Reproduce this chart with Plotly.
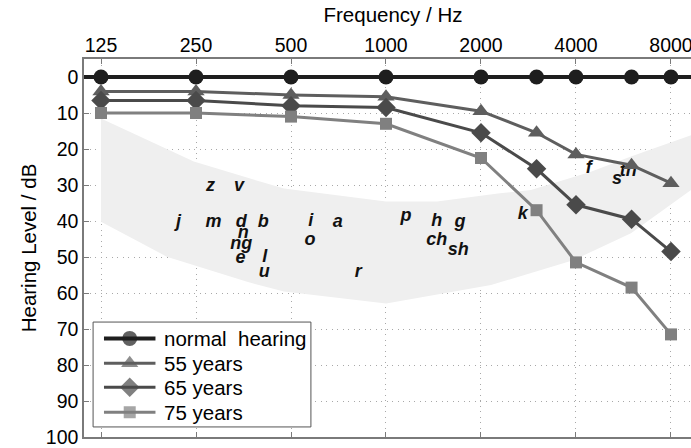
import plotly.graph_objects as go

# ---- data ----
freqs = [125, 250, 500, 1000, 2000, 3000, 4000, 6000, 8000]
normal_hearing = [0, 0, 0, 0, 0, 0, 0, 0, 0]
years_55 = [4, 4, 5, 5.5, 9.5, 15.5, 21.5, 24.5, 29.5]
years_65 = [6.5, 6.5, 8, 8.5, 15.5, 25.5, 35.5, 39.5, 48.5]
years_75 = [10, 10, 11, 13, 22.5, 37, 51.5, 58.5, 71.5]

tick_freqs = [125, 250, 500, 1000, 2000, 4000, 8000]
tick_labels = ["125", "250", "500", "1000", "2000", "4000", "8000"]
level_ticks = [0, 10, 20, 30, 40, 50, 60, 70, 80, 90, 100]

# speech banana outline (upper edge left->right, lower edge right->left)
banana_freq = [125, 246, 475, 1000, 1451, 2297, 2880, 4462, 5974, 10000,
               10000, 5974, 3943, 2151, 1000, 475, 363, 202, 125]
banana_level = [11.5, 23.5, 31, 34.6, 34.6, 32.3, 31.4, 26.3, 22.1, 15.1,
                29.3, 43.4, 50.8, 57.8, 62.9, 59.6, 56.9, 49.9, 40.2]

phonemes = ["z", "v", "j", "m", "d", "b", "n", "ng", "e", "l", "u",
            "i", "a", "o", "r", "p", "h", "g", "ch", "sh", "k", "f", "s", "th"]
phoneme_freq = [278, 342, 220, 284, 348, 408, 353, 348, 346, 413, 411,
                578, 703, 574, 817, 1157, 1448, 1716, 1448, 1695, 2712, 4388, 5395, 5858]
phoneme_level = [30.5, 30.3, 40.5, 40.5, 40.3, 40.4, 43.5, 46.5, 50.4, 50, 54.4,
                 40.2, 40.4, 45.3, 54.3, 38.7, 40.2, 40.5, 45.3, 48.3, 38.2, 25.4, 28.4, 26.3]

FONT = "Liberation Sans, Arial, Helvetica, sans-serif"
AXIS_GRAY = "#7a7a7a"
GRID = dict(showgrid=True, gridcolor="#a8a8a8", griddash="1px,4.5px", gridwidth=1)

# figure / plot-area geometry (pixels); the plot runs a little past the 691px window
W, H = 702, 448
ML, MR, MT, MB = 84, 0, 59, 11
PW, PH = W - ML - MR, H - MT - MB

fig = go.Figure()

fig.add_trace(go.Scatter(
    x=banana_freq, y=banana_level, mode="lines", fill="toself",
    fillcolor="#efefef", line=dict(width=0), showlegend=False, hoverinfo="skip"))

fig.add_trace(go.Scatter(
    x=phoneme_freq, y=phoneme_level, mode="text", text=phonemes,
    textposition="middle center",
    textfont=dict(family=FONT, size=18, color="#111", weight="bold", style="italic"),
    showlegend=False, hoverinfo="skip"))

fig.add_hline(y=0, line=dict(color="#1e1e1e", width=4), layer="above")

series = [
    ("normal  hearing", normal_hearing, "#1e1e1e", "circle", 15, 4),
    ("55 years", years_55, "#5e5e5e", "triangle-up", 15, 3),
    ("65 years", years_65, "#4a4a4a", "diamond", 15, 3),
    ("75 years", years_75, "#808080", "square", 12, 3),
]
for name, vals, col, sym, msize, lw in series:
    fig.add_trace(go.Scatter(
        x=freqs, y=vals, name=name, mode="lines+markers",
        line=dict(color=col, width=lw),
        marker=dict(symbol=sym, size=msize, color=col, line=dict(width=0)),
        showlegend=False))

# ---- legend drawn in its own small subplot (box in pixels) ----
LB_L, LB_R, LB_T, LB_B = 92, 312, 321, 428
row_px = [337.7, 363, 387.5, 413]
leg_xdom = [(LB_L - ML) / PW, (LB_R - ML) / PW]
leg_ydom = [(H - MB - LB_B) / PH, (H - MB - LB_T) / PH]
box_h = LB_B - LB_T
box_w = LB_R - LB_L
fig.add_trace(go.Scatter(
    x=[0, 1, 1, 0, 0], y=[0, 0, 1, 1, 0], mode="lines", fill="toself",
    fillcolor="white", line=dict(color="#555", width=1),
    xaxis="x2", yaxis="y2", showlegend=False, hoverinfo="skip"))
s_x0, s_x1 = (103 - LB_L) / box_w, (155 - LB_L) / box_w
s_xm = (s_x0 + s_x1) / 2
t_x = (162 - LB_L) / box_w
for (name, vals, col, sym, msize, lw), rp in zip(series, row_px):
    ry = (LB_B - rp) / box_h
    fig.add_trace(go.Scatter(
        x=[s_x0, s_xm, s_x1], y=[ry, ry, ry], mode="lines+markers",
        line=dict(color=col, width=lw),
        marker=dict(symbol=sym, size=[0, msize, 0], color=col, line=dict(width=0)),
        xaxis="x2", yaxis="y2", showlegend=False, hoverinfo="skip"))
    fig.add_annotation(
        x=t_x, y=ry, xref="x2", yref="y2", text=name, showarrow=False,
        xanchor="left", yanchor="middle", font=dict(family=FONT, size=20.5, color="#000"))

fig.update_layout(
    width=W, height=H,
    margin=dict(l=ML, r=MR, t=MT, b=MB),
    paper_bgcolor="white", plot_bgcolor="white",
    font=dict(family=FONT, size=19.5, color="#000"),
    showlegend=False,
    xaxis2=dict(domain=leg_xdom, range=[-0.005, 1.005], visible=False,
                anchor="y2", fixedrange=True),
    yaxis2=dict(domain=leg_ydom, range=[-0.01, 1.01], visible=False,
                anchor="x2", fixedrange=True),
)

fig.layout.xaxis.update(
    type="log", side="top",
    range=[2.043, 4.0014], automargin=False,
    tickvals=tick_freqs, ticktext=tick_labels, ticklabeloverflow="allow",
    ticks="inside", ticklen=5, tickcolor=AXIS_GRAY, tickwidth=1,
    showline=True, linecolor=AXIS_GRAY, linewidth=1.5, mirror="allticks",
    zeroline=False, **GRID,
    title=dict(text="Frequency / Hz", font=dict(size=20.5), standoff=6),
)
fig.layout.yaxis.update(
    range=[100, -5], automargin=False,
    tickvals=level_ticks,
    ticks="inside", ticklen=5, tickcolor=AXIS_GRAY, tickwidth=1,
    showline=True, linecolor=AXIS_GRAY, linewidth=1.5, mirror="allticks",
    zeroline=False, **GRID,
    title=dict(text="Hearing Level / dB", font=dict(size=20.5), standoff=4),
)
try:
    fig.layout.xaxis.ticklabelstandoff = -3
except Exception:
    pass

fig.write_html("out.html", config={"displayModeBar": False},
               post_script="document.body.style.margin='0';document.body.style.overflow='hidden';")
